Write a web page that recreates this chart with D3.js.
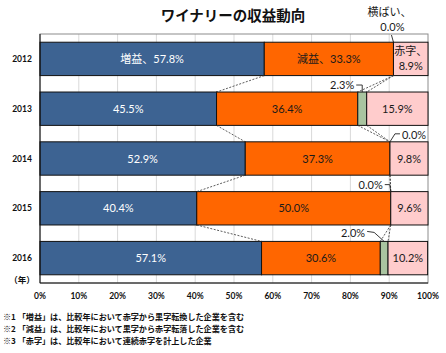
<!DOCTYPE html>
<html>
<head>
<meta charset="utf-8">
<script src="https://cdn.jsdelivr.net/npm/d3@7"></script>
<style>
  body { margin: 0; background: #fff; }
  svg { display: block; }
</style>
</head>
<body>
<div id="chart"></div>
<script>
// data
var years = [ '2012', '2013', '2014', '2015', '2016' ];
var categories = [ '増益', '減益', '横ばい', '赤字' ];
var zoueki = [ 57.8, 45.5, 52.9, 40.4, 57.1 ];
var genneki = [ 33.3, 36.4, 37.3, 50.0, 30.6 ];
var yokobai = [ 0.0, 2.3, 0.0, 0.0, 2.0 ];
var akaji = [ 8.9, 15.9, 9.8, 9.6, 10.2 ];
var xTicks = [ 0, 10, 20, 30, 40, 50, 60, 70, 80, 90, 100 ];
var notes = [
  '※1 「増益」は、比較年において赤字から黒字転換した企業を含む',
  '※2 「減益」は、比較年において黒字から赤字転落した企業を含む',
  '※3 「赤字」は、比較年において連続赤字を計上した企業'
];

var width = 446, height = 353;
var plot = { left: 40, right: 428, top: 34, bottom: 283 };
var colors = [ '#3D6392', '#FF6600', '#A9C4A0', '#FFCCCC' ];
var textColors = [ '#ffffff', '#1a1a1a', '#1a1a1a', '#1a1a1a' ];
var font = 'Lato, "Noto Sans CJK JP", sans-serif';

var rows = years.map( function( y, i ) {
  return { year: y, '増益': zoueki[ i ], '減益': genneki[ i ], '横ばい': yokobai[ i ], '赤字': akaji[ i ] };
} );
var series = d3.stack().keys( categories )( rows );

var x = d3.scaleLinear().domain( [ 0, 100 ] ).range( [ plot.left, plot.right ] );
var y = d3.scaleBand().domain( years ).range( [ plot.top, plot.bottom ] )
  .paddingInner( 0.33 ).paddingOuter( 0.165 );

var svg = d3.select( '#chart' ).append( 'svg' )
  .attr( 'width', width ).attr( 'height', height );

// title
svg.append( 'text' )
  .attr( 'x', 233 ).attr( 'y', 21 )
  .attr( 'text-anchor', 'middle' )
  .attr( 'font-family', '"Noto Sans CJK JP", sans-serif' )
  .attr( 'font-weight', 'bold' )
  .attr( 'font-size', '14.5px' )
  .attr( 'fill', '#111' )
  .text( 'ワイナリーの収益動向' );

// gridlines
svg.append( 'g' ).selectAll( 'line' )
  .data( xTicks.slice( 1, -1 ) )
  .enter().append( 'line' )
  .attr( 'x1', function( d ) { return x( d ); } )
  .attr( 'x2', function( d ) { return x( d ); } )
  .attr( 'y1', plot.top ).attr( 'y2', plot.bottom )
  .attr( 'stroke', '#d9d9d9' ).attr( 'stroke-width', 1 );

// plot border
svg.append( 'rect' )
  .attr( 'x', plot.left ).attr( 'y', plot.top )
  .attr( 'width', plot.right - plot.left ).attr( 'height', plot.bottom - plot.top )
  .attr( 'fill', 'none' ).attr( 'stroke', '#8c8c8c' ).attr( 'stroke-width', 1 );

// bars
var layer = svg.append( 'g' ).selectAll( 'g' )
  .data( series ).enter().append( 'g' )
  .attr( 'fill', function( d, i ) { return colors[ i ]; } );

layer.selectAll( 'rect' )
  .data( function( d ) { return d; } )
  .enter().append( 'rect' )
  .attr( 'x', function( d ) { return x( d[ 0 ] ); } )
  .attr( 'y', function( d ) { return y( d.data.year ); } )
  .attr( 'width', function( d ) { return Math.max( 0, x( Math.min( d[ 1 ], 100 ) ) - x( d[ 0 ] ) ); } )
  .attr( 'height', y.bandwidth() )
  .attr( 'stroke', '#111' ).attr( 'stroke-width', 1 );

// series lines between bars
var seriesLines = [];
for ( var s = 0; s < 3; s++ ) {
  for ( var i = 0; i < years.length - 1; i++ ) {
    seriesLines.push( {
      x1: series[ s ][ i ][ 1 ], y1: y( years[ i ] ) + y.bandwidth(),
      x2: series[ s ][ i + 1 ][ 1 ], y2: y( years[ i + 1 ] )
    } );
  }
}
svg.append( 'g' ).selectAll( 'line' )
  .data( seriesLines ).enter().append( 'line' )
  .attr( 'x1', function( d ) { return x( d.x1 ); } )
  .attr( 'y1', function( d ) { return d.y1; } )
  .attr( 'x2', function( d ) { return x( d.x2 ); } )
  .attr( 'y2', function( d ) { return d.y2; } )
  .attr( 'stroke', '#333' ).attr( 'stroke-width', 0.8 )
  .attr( 'stroke-dasharray', '2,1.5' );

// axes lines
svg.append( 'line' )
  .attr( 'x1', plot.left ).attr( 'x2', plot.left )
  .attr( 'y1', plot.top ).attr( 'y2', plot.bottom )
  .attr( 'stroke', '#111' );
svg.append( 'line' )
  .attr( 'x1', plot.left ).attr( 'x2', plot.right )
  .attr( 'y1', plot.bottom ).attr( 'y2', plot.bottom )
  .attr( 'stroke', '#111' );

// in-bar labels
function centerOf( d ) { return x( ( d[ 0 ] + Math.min( d[ 1 ], 100 ) ) / 2 ); }
function midY( d ) { return y( d.data.year ) + y.bandwidth() / 2; }

[ 0, 1, 3 ].forEach( function( s ) {
  series[ s ].forEach( function( d, i ) {
    var v = d[ 1 ] - d[ 0 ];
    var lab = svg.append( 'text' )
      .attr( 'text-anchor', 'middle' )
      .attr( 'font-family', font )
      .attr( 'font-size', '11px' )
      .attr( 'fill', textColors[ s ] );
    if ( i === 0 && s === 3 ) {
      lab.append( 'tspan' ).attr( 'x', centerOf( d ) ).attr( 'y', midY( d ) - 4 ).text( categories[ s ] + '、' );
      lab.append( 'tspan' ).attr( 'x', centerOf( d ) ).attr( 'y', midY( d ) + 11 ).text( v.toFixed( 1 ) + '%' );
    } else {
      lab.attr( 'x', centerOf( d ) ).attr( 'y', midY( d ) + 4 )
        .text( ( i === 0 ? categories[ s ] + '、' : '' ) + v.toFixed( 1 ) + '%' );
    }
  } );
} );

// callout labels for the 横ばい series
var yk = series[ 2 ];
function calloutText( tx, ty, anchor, str ) {
  svg.append( 'text' )
    .attr( 'x', tx ).attr( 'y', ty )
    .attr( 'text-anchor', anchor )
    .attr( 'font-family', font )
    .attr( 'font-size', '11px' )
    .attr( 'fill', '#1a1a1a' )
    .text( str );
}
function leader( pts ) {
  svg.append( 'path' )
    .attr( 'd', d3.line()( pts ) )
    .attr( 'fill', 'none' )
    .attr( 'stroke', '#222' ).attr( 'stroke-width', 0.9 );
}
function pct( i ) { return ( yk[ i ][ 1 ] - yk[ i ][ 0 ] ).toFixed( 1 ) + '%'; }
function gx( i ) { return x( ( yk[ i ][ 0 ] + yk[ i ][ 1 ] ) / 2 ); }

// 2012
var t0 = y( years[ 0 ] );
calloutText( gx( 0 ) - 4, 16, 'middle', categories[ 2 ] + '、' );
calloutText( gx( 0 ) - 1, 31, 'middle', pct( 0 ) );
leader( [ [ gx( 0 ) - 2, 35 ], [ gx( 0 ), t0 ] ] );
// 2013
var t1 = y( years[ 1 ] );
calloutText( gx( 1 ) - 8, t1 - 3, 'end', pct( 1 ) );
leader( [ [ gx( 1 ) - 6, t1 - 7 ], [ gx( 1 ), t1 - 7 ], [ gx( 1 ), t1 ] ] );
// 2014
var t2 = y( years[ 2 ] );
calloutText( gx( 2 ) + 12, t2 - 3, 'start', pct( 2 ) );
leader( [ [ gx( 2 ) + 10, t2 - 8 ], [ gx( 2 ) + 5, t2 - 8 ], [ gx( 2 ), t2 ] ] );
// 2015
var t3 = y( years[ 3 ] );
calloutText( gx( 3 ) - 8, t3 - 3, 'end', pct( 3 ) );
leader( [ [ gx( 3 ) - 6, t3 - 7 ], [ gx( 3 ) - 1, t3 - 7 ], [ gx( 3 ), t3 ] ] );
// 2016
var t4 = y( years[ 4 ] );
calloutText( gx( 4 ) - 19, t4 - 4, 'end', pct( 4 ) );
leader( [ [ gx( 4 ) - 17, t4 - 10 ], [ gx( 4 ) - 10, t4 - 9 ], [ gx( 4 ), t4 ] ] );

// year labels
svg.append( 'g' ).selectAll( 'text' )
  .data( years ).enter().append( 'text' )
  .attr( 'x', 22 )
  .attr( 'y', function( d ) { return y( d ) + y.bandwidth() / 2 + 3; } )
  .attr( 'text-anchor', 'middle' )
  .attr( 'font-family', font )
  .attr( 'font-weight', 'bold' )
  .attr( 'font-size', '8.5px' )
  .attr( 'fill', '#111' )
  .text( function( d ) { return d; } );

svg.append( 'text' )
  .attr( 'x', 22 ).attr( 'y', 283 )
  .attr( 'text-anchor', 'middle' )
  .attr( 'font-family', '"Noto Sans CJK JP", sans-serif' )
  .attr( 'font-weight', 'bold' )
  .attr( 'font-size', '8.5px' )
  .attr( 'fill', '#111' )
  .text( '（年）' );

// x tick labels
svg.append( 'g' ).selectAll( 'text' )
  .data( xTicks ).enter().append( 'text' )
  .attr( 'x', function( d ) { return x( d ); } )
  .attr( 'y', 299 )
  .attr( 'text-anchor', 'middle' )
  .attr( 'font-family', font )
  .attr( 'font-weight', 'bold' )
  .attr( 'font-size', '8.5px' )
  .attr( 'fill', '#111' )
  .text( function( d ) { return d + '%'; } );

// footnotes
svg.append( 'g' ).selectAll( 'text' )
  .data( notes ).enter().append( 'text' )
  .attr( 'x', 3 )
  .attr( 'y', function( d, i ) { return 320 + i * 12; } )
  .attr( 'font-family', '"Noto Sans CJK JP", sans-serif' )
  .attr( 'font-weight', 'bold' )
  .attr( 'font-size', '8.1px' )
  .attr( 'fill', '#111' )
  .text( function( d ) { return d; } );
</script>
</body>
</html>
